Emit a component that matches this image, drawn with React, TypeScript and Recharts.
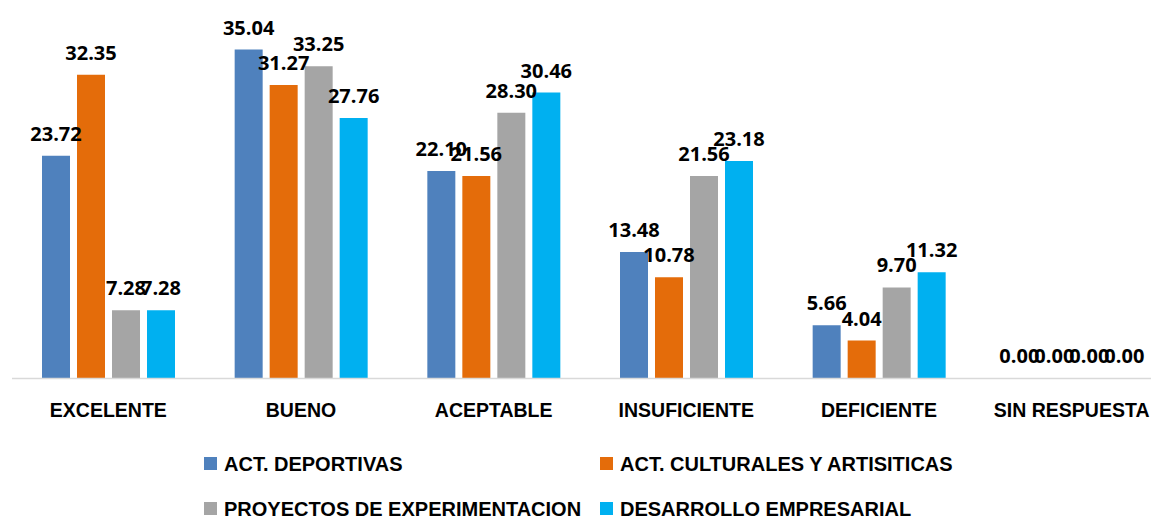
import { Bar, BarChart, LabelList, Legend, XAxis, YAxis } from 'recharts'

const categories = ['EXCELENTE', 'BUENO', 'ACEPTABLE', 'INSUFICIENTE', 'DEFICIENTE', 'SIN RESPUESTA']
const deportivas = [23.72, 35.04, 22.1, 13.48, 5.66, 0]
const culturales = [32.35, 31.27, 21.56, 10.78, 4.04, 0]
const proyectos = [7.28, 33.25, 28.3, 21.56, 9.7, 0]
const empresarial = [7.28, 27.76, 30.46, 23.18, 11.32, 0]

const SERIES = [
  { key: 'deportivas', name: 'ACT. DEPORTIVAS', color: '#4F81BD' },
  { key: 'culturales', name: 'ACT. CULTURALES Y ARTISITICAS', color: '#E46C0A' },
  { key: 'proyectos', name: 'PROYECTOS DE EXPERIMENTACION', color: '#A5A5A5' },
  { key: 'empresarial', name: 'DESARROLLO EMPRESARIAL', color: '#00B0F0' },
]

const data = categories.map((c, i) => ({
  name: c,
  deportivas: deportivas[i],
  culturales: culturales[i],
  proyectos: proyectos[i],
  empresarial: empresarial[i],
}))

const TEXT_FONT = "'Liberation Sans', Arial, sans-serif"
const LABEL_FONT = "'Open Sans', sans-serif"

function CategoryTick({ x, y, payload }: any) {
  return (
    <text
      x={x}
      y={y + 38}
      textAnchor="middle"
      fill="#000"
      fontSize={19.5}
      fontWeight="bold"
      fontFamily={TEXT_FONT}
    >
      {payload.value}
    </text>
  )
}

// legend wrapper already sits at margin.left (12px)
const COL_X = [192, 588]
const ROW_Y = [35.5, 80.5]

// legend laid out in 2 columns, in series order (not alphabetic)
function LegendGrid({ payload }: any) {
  const order = SERIES.map((s) => s.name)
  const items = [...(payload || [])].sort((a: any, b: any) => order.indexOf(a.value) - order.indexOf(b.value))
  return (
    <div style={{ position: 'relative', width: 1156, height: 88 }}>
      {items.map((item: any, i: number) => (
        <div
          key={item.value}
          style={{
            position: 'absolute',
            left: COL_X[i % 2],
            top: ROW_Y[Math.floor(i / 2)] - 10,
            height: 20,
            display: 'flex',
            alignItems: 'center',
            whiteSpace: 'nowrap',
            fontFamily: TEXT_FONT,
            fontWeight: 'bold',
            fontSize: 20,
            lineHeight: '20px',
            color: '#000',
          }}
        >
          <span style={{ width: 13, height: 13, background: item.color, marginRight: 7, display: 'inline-block' }} />
          {item.value}
        </div>
      ))}
    </div>
  )
}

export default function App() {
  return (
    <div style={{ position: 'absolute', left: 0, top: 0, width: 1151, height: 516, overflow: 'hidden', background: '#fff' }}>
      <BarChart
        width={1168}
        height={516}
        data={data}
        margin={{ top: 3, right: 0, bottom: 0, left: 12 }}
        barCategoryGap={30}
        barGap={7}
      >
        <XAxis
          dataKey="name"
          height={49.5}
          tickLine={false}
          tickSize={0}
          tickMargin={0}
          axisLine={{ stroke: '#D9D9D9', strokeWidth: 1.5 }}
          tick={<CategoryTick />}
          interval={0}
        />
        <YAxis hide domain={[0, 40]} />
        <Legend verticalAlign="bottom" align="left" content={<LegendGrid />} />
        {SERIES.map((s) => (
          <Bar
            key={s.key}
            dataKey={s.key}
            name={s.name}
            fill={s.color}
            minPointSize={0.01}
            isAnimationActive={false}
          >
            <LabelList
              dataKey={s.key}
              position="top"
              offset={15}
              formatter={(v: number) => v.toFixed(2)}
              fill="#000"
              fontSize={20}
              fontWeight="bold"
              fontFamily={LABEL_FONT}
            />
          </Bar>
        ))}
      </BarChart>
    </div>
  )
}
